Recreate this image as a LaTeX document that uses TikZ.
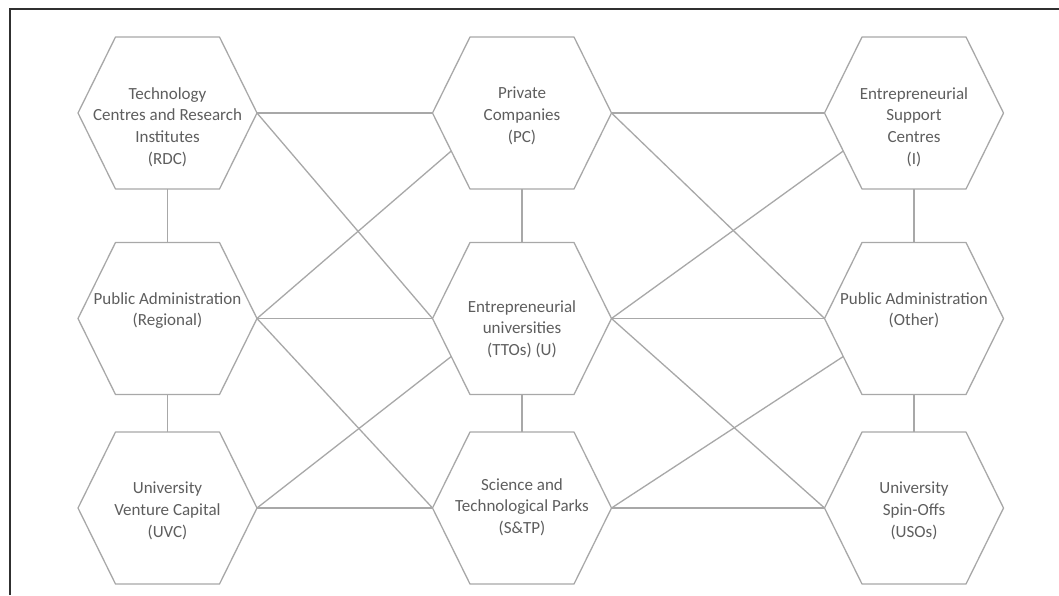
\documentclass[tikz,border=0pt]{standalone}
\usepackage{fontspec}
\setmainfont{Carlito}
\definecolor{edgegray}{HTML}{A8A8A8}
\definecolor{textgray}{HTML}{5E5E5E}
\definecolor{framegray}{HTML}{303030}
\tikzset{
  hexa/.pic={
    \draw[hexline] (-52,-76) -- (52,-76) -- (89.5,0) -- (52,76) -- (-52,76) -- (-89.5,0) -- cycle;
    \coordinate (-l) at (-89.5,0);
    \coordinate (-r) at (89.5,0);
    \coordinate (-t) at (0,-76);
    \coordinate (-b) at (0,76);
    \coordinate (-ll) at (-70.75,38);
  },
  hexline/.style={draw=edgegray, line width=1.3pt, line join=round},
  link/.style={draw=edgegray, line width=1.3pt},
  lab/.style={text=textgray, align=center, anchor=north, inner sep=0pt,
    font=\fontsize{17}{21.7}\selectfont},
}
\begin{document}
\begin{tikzpicture}[x=1pt,y=-1pt]
\useasboundingbox (0,0) rectangle (1059,595);
\fill[white] (0,0) rectangle (1059,595);
\draw[framegray, line width=2pt] (10,595) -- (10,9) -- (1059,9);

% hexagons
\pic (rdc) at (167.5,113) {hexa};
\pic (pc)  at (522,113) {hexa};
\pic (i)   at (914,113) {hexa};
\pic (par) at (167.5,318.5) {hexa};
\pic (u)   at (522,318.5) {hexa};
\pic (pao) at (914,318.5) {hexa};
\pic (uvc) at (167.5,508) {hexa};
\pic (stp) at (522,508) {hexa};
\pic (uso) at (914,508) {hexa};

% labels
\node[lab] (trdc) at (167.5,87) {Technology\\Centres and Research\\Institutes\\(RDC)};
\node[lab] (tpc)  at (522,87) {Private\\Companies\\(PC)};
\node[lab] (ti)   at (914,87) {Entrepreneurial\\Support\\Centres\\(I)};
\node[lab] (tpar) at (167.5,292) {Public Administration\\(Regional)};
\node[lab] (tu)   at (522,300) {Entrepreneurial\\universities\\(TTOs) (U)};
\node[lab] (tpao) at (914,292) {Public Administration\\(Other)};
\node[lab] (tuvc) at (167.5,482) {University\\Venture Capital\\(UVC)};
\node[lab] (tstp) at (522,478) {Science and\\Technological Parks\\(S\&TP)};
\node[lab] (tuso) at (914,482) {University\\Spin-Offs\\(USOs)};

% vertical links
\draw[link] (rdc-b) -- (par-t);
\draw[link] (par-b) -- (uvc-t);
\draw[link] (pc-b) -- (u-t);
\draw[link] (u-b) -- (stp-t);
\draw[link] (i-b) -- (pao-t);
\draw[link] (pao-b) -- (uso-t);

% horizontal links
\draw[link] (rdc-r) -- (pc-l);
\draw[link] (pc-r) -- (i-l);
\draw[link] (par-r) -- (u-l);
\draw[link] (u-r) -- (pao-l);
\draw[link] (uvc-r) -- (stp-l);
\draw[link] (stp-r) -- (uso-l);

% diagonal links
\draw[link] (rdc-r) -- (u-l);
\draw[link] (par-r) -- (pc-ll);
\draw[link] (par-r) -- (stp-l);
\draw[link] (uvc-r) -- (u-ll);
\draw[link] (pc-r) -- (pao-l);
\draw[link] (u-r) -- (i-ll);
\draw[link] (u-r) -- (uso-l);
\draw[link] (stp-r) -- (pao-ll);
\end{tikzpicture}
\end{document}
